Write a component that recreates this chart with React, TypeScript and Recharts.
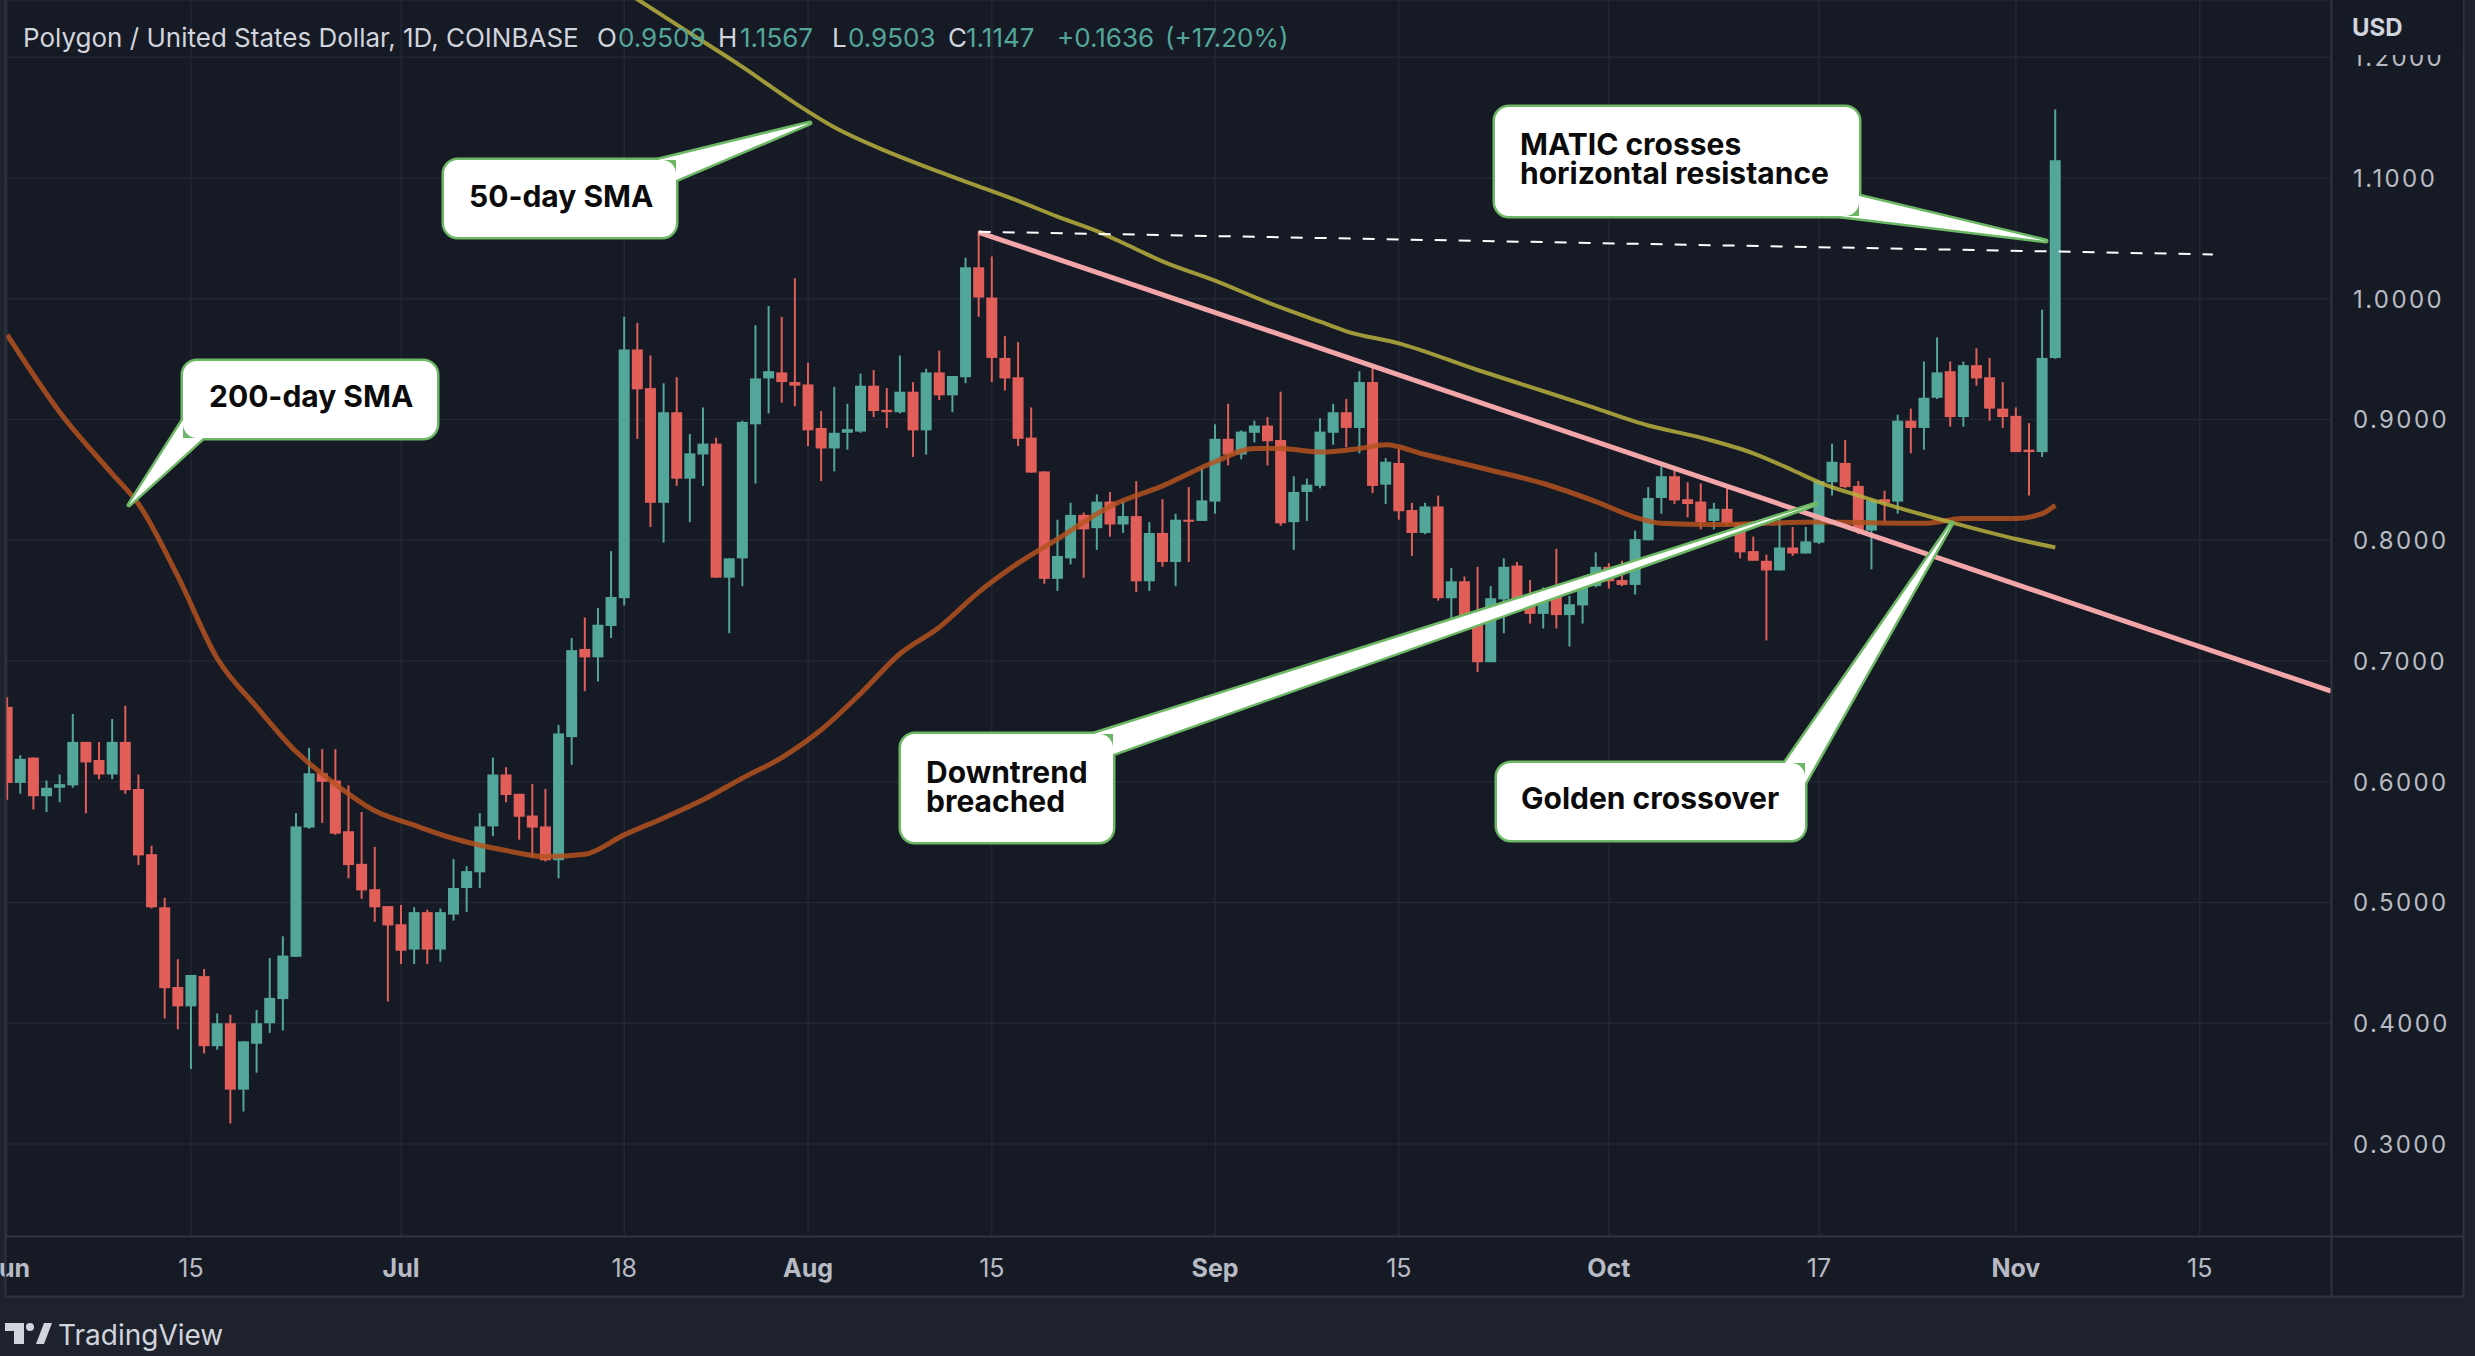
import React from 'react';
import { ComposedChart, Bar, Line, XAxis, YAxis, CartesianGrid } from 'recharts';

const PANEL_W = 2464;
const PANEL_H = 1297;

const UP = '#53a69a';
const DOWN = '#e15e59';
const BG = '#161a25';
const OUTER = '#1e222d';
const GRID = '#232734';
const BORDER = '#2f3341';
const TEXT = '#d1d4dc';
const AXIS_TEXT = '#b8bbc3';
const FONT = "Inter, 'Liberation Sans', sans-serif";

// daily candles from 1 Jun 2022 (index = days since 1 Jun) to 4 Nov 2022
const opens = [
  0.662, 0.599, 0.62, 0.588, 0.595, 0.597, 0.633, 0.618, 0.606, 0.633,
  0.594, 0.54, 0.496, 0.43, 0.414, 0.439, 0.381, 0.4, 0.345, 0.383,
  0.4, 0.42, 0.455, 0.562, 0.607, 0.601, 0.559, 0.532, 0.511, 0.497,
  0.482, 0.461, 0.492, 0.461, 0.49, 0.512, 0.525, 0.563, 0.606, 0.59,
  0.572, 0.563, 0.535, 0.637, 0.71, 0.703, 0.729, 0.752, 0.958, 0.926,
  0.831, 0.906, 0.851, 0.871, 0.88, 0.769, 0.785, 0.896, 0.934, 0.939,
  0.931, 0.929, 0.893, 0.876, 0.889, 0.89, 0.928, 0.908, 0.906, 0.923,
  0.891, 0.939, 0.92, 0.935, 1.026, 1.001, 0.951, 0.935, 0.885, 0.857,
  0.768, 0.785, 0.821, 0.81, 0.832, 0.813, 0.82, 0.766, 0.806, 0.782,
  0.817, 0.816, 0.832, 0.884, 0.871, 0.889, 0.895, 0.883, 0.815, 0.84,
  0.845, 0.889, 0.906, 0.893, 0.931, 0.846, 0.864, 0.825, 0.806, 0.828,
  0.752, 0.766, 0.734, 0.699, 0.751, 0.779, 0.753, 0.739, 0.756, 0.738,
  0.746, 0.762, 0.778, 0.767, 0.763, 0.8, 0.835, 0.853, 0.834, 0.832,
  0.816, 0.826, 0.814, 0.791, 0.783, 0.775, 0.794, 0.789, 0.798, 0.848,
  0.864, 0.845, 0.808, 0.834, 0.832, 0.899, 0.893, 0.918, 0.94, 0.902,
  0.945, 0.935, 0.909, 0.903, 0.875, 0.873, 0.9509,
];
const highs = [
  0.67, 0.622, 0.62, 0.601, 0.606, 0.656, 0.633, 0.633, 0.652, 0.663,
  0.606, 0.547, 0.504, 0.453, 0.44, 0.445, 0.408, 0.407, 0.385, 0.411,
  0.454, 0.472, 0.574, 0.628, 0.627, 0.627, 0.597, 0.575, 0.546, 0.497,
  0.498, 0.496, 0.494, 0.495, 0.536, 0.53, 0.574, 0.62, 0.612, 0.59,
  0.598, 0.594, 0.647, 0.719, 0.736, 0.744, 0.791, 0.985, 0.98, 0.953,
  0.93, 0.935, 0.888, 0.91, 0.885, 0.785, 0.899, 0.978, 0.994, 0.985,
  1.017, 0.947, 0.907, 0.927, 0.913, 0.938, 0.941, 0.926, 0.953, 0.931,
  0.942, 0.957, 0.936, 1.034, 1.056, 1.035, 0.969, 0.964, 0.91, 0.857,
  0.817, 0.831, 0.823, 0.838, 0.84, 0.832, 0.849, 0.815, 0.834, 0.822,
  0.844, 0.86, 0.896, 0.913, 0.891, 0.899, 0.902, 0.923, 0.853, 0.851,
  0.901, 0.913, 0.917, 0.94, 0.944, 0.868, 0.876, 0.831, 0.831, 0.837,
  0.777, 0.77, 0.778, 0.762, 0.785, 0.782, 0.767, 0.761, 0.793, 0.754,
  0.764, 0.79, 0.781, 0.783, 0.808, 0.844, 0.861, 0.861, 0.848, 0.847,
  0.831, 0.843, 0.814, 0.803, 0.788, 0.821, 0.811, 0.811, 0.85, 0.88,
  0.883, 0.849, 0.834, 0.841, 0.904, 0.909, 0.948, 0.968, 0.948, 0.948,
  0.959, 0.951, 0.931, 0.91, 0.897, 0.991, 1.1567,
];
const lows = [
  0.585, 0.59, 0.577, 0.575, 0.583, 0.595, 0.574, 0.602, 0.602, 0.59,
  0.531, 0.495, 0.404, 0.395, 0.362, 0.375, 0.378, 0.317, 0.327, 0.359,
  0.392, 0.394, 0.455, 0.561, 0.566, 0.556, 0.52, 0.503, 0.484, 0.418,
  0.449, 0.449, 0.449, 0.451, 0.485, 0.492, 0.512, 0.555, 0.583, 0.552,
  0.537, 0.534, 0.52, 0.614, 0.675, 0.683, 0.719, 0.746, 0.884, 0.811,
  0.798, 0.845, 0.815, 0.845, 0.769, 0.723, 0.762, 0.847, 0.905, 0.914,
  0.911, 0.878, 0.849, 0.857, 0.875, 0.889, 0.902, 0.893, 0.905, 0.869,
  0.871, 0.916, 0.906, 0.93, 0.985, 0.931, 0.924, 0.878, 0.856, 0.764,
  0.758, 0.78, 0.769, 0.792, 0.803, 0.806, 0.757, 0.758, 0.778, 0.762,
  0.782, 0.816, 0.822, 0.862, 0.867, 0.881, 0.862, 0.812, 0.792, 0.816,
  0.843, 0.879, 0.877, 0.872, 0.839, 0.83, 0.817, 0.787, 0.805, 0.75,
  0.725, 0.73, 0.691, 0.699, 0.723, 0.751, 0.731, 0.727, 0.727, 0.712,
  0.731, 0.761, 0.76, 0.762, 0.755, 0.8, 0.822, 0.83, 0.819, 0.809,
  0.809, 0.812, 0.785, 0.783, 0.717, 0.775, 0.787, 0.789, 0.797, 0.837,
  0.843, 0.805, 0.776, 0.815, 0.822, 0.872, 0.875, 0.917, 0.894, 0.894,
  0.928, 0.899, 0.893, 0.873, 0.837, 0.869, 0.9503,
];
const closes = [
  0.599, 0.619, 0.588, 0.595, 0.598, 0.633, 0.616, 0.606, 0.633, 0.593,
  0.539, 0.496, 0.429, 0.414, 0.44, 0.381, 0.4, 0.345, 0.385, 0.4,
  0.421, 0.456, 0.563, 0.607, 0.6, 0.557, 0.531, 0.51, 0.496, 0.481,
  0.46, 0.492, 0.461, 0.492, 0.512, 0.526, 0.563, 0.606, 0.589, 0.571,
  0.562, 0.535, 0.64, 0.709, 0.703, 0.73, 0.753, 0.958, 0.925, 0.831,
  0.906, 0.851, 0.872, 0.88, 0.769, 0.785, 0.898, 0.934, 0.94, 0.931,
  0.928, 0.891, 0.876, 0.889, 0.892, 0.928, 0.907, 0.906, 0.923, 0.891,
  0.939, 0.92, 0.936, 1.026, 1.001, 0.951, 0.934, 0.884, 0.856, 0.768,
  0.787, 0.821, 0.809, 0.832, 0.813, 0.82, 0.766, 0.806, 0.782, 0.817,
  0.816, 0.833, 0.884, 0.871, 0.89, 0.895, 0.882, 0.814, 0.84, 0.846,
  0.89, 0.906, 0.893, 0.931, 0.845, 0.865, 0.824, 0.806, 0.828, 0.752,
  0.766, 0.732, 0.699, 0.752, 0.778, 0.751, 0.739, 0.756, 0.738, 0.747,
  0.763, 0.778, 0.766, 0.763, 0.801, 0.835, 0.853, 0.833, 0.83, 0.815,
  0.826, 0.814, 0.79, 0.783, 0.775, 0.794, 0.789, 0.799, 0.849, 0.865,
  0.844, 0.808, 0.833, 0.831, 0.899, 0.893, 0.918, 0.939, 0.902, 0.945,
  0.934, 0.909, 0.902, 0.873, 0.873, 0.951, 1.1147,
];

// time axis
const tickDays = [0, 14, 30, 47, 61, 75, 92, 106, 122, 138, 153, 167];
const tickLabels = ['Jun', '15', 'Jul', '18', 'Aug', '15', 'Sep', '15', 'Oct', '17', 'Nov', '15'];
const monthLabels = ['Jun', 'Jul', 'Aug', 'Sep', 'Oct', 'Nov'];

// price axis
const priceTicks = [0.3, 0.4, 0.5, 0.6, 0.7, 0.8, 0.9, 1.0, 1.1, 1.2];

// moving averages
const sma50Days = [46, 48, 52, 56, 60, 63, 67, 71, 74, 77, 80, 83, 86, 88, 92, 96, 100, 102, 106, 112, 116, 120, 125, 129, 133, 136, 138, 141, 144, 148, 153, 156];
const sma50Values = [1.262, 1.248, 1.22, 1.192, 1.162, 1.142, 1.122, 1.105, 1.093, 1.081, 1.068, 1.056, 1.041, 1.031, 1.015, 0.997, 0.981, 0.973, 0.963, 0.941, 0.927, 0.913, 0.895, 0.885, 0.872, 0.858, 0.848, 0.837, 0.827, 0.815, 0.801, 0.794];
const sma200Days = [0, 4, 8, 10, 13, 16, 19, 22, 25, 28, 31, 34, 38, 41, 44, 47, 50, 53, 56, 59, 62, 65, 68, 71, 74, 77, 80, 84, 88, 92, 95, 97, 100, 103, 105, 108, 113, 117, 121, 124, 126, 130, 138, 146, 149, 153, 155, 156];
const sma200Values = [0.97, 0.906, 0.855, 0.83, 0.77, 0.702, 0.662, 0.625, 0.598, 0.576, 0.564, 0.553, 0.543, 0.538, 0.54, 0.556, 0.57, 0.585, 0.603, 0.62, 0.643, 0.673, 0.706, 0.728, 0.757, 0.781, 0.801, 0.828, 0.845, 0.865, 0.876, 0.876, 0.873, 0.876, 0.879, 0.871, 0.858, 0.847, 0.832, 0.819, 0.814, 0.813, 0.815, 0.814, 0.818, 0.818, 0.822, 0.829];

// drawn trend lines
const downtrendDays = [74, 177];
const downtrendValues = [1.055, 0.675];
const resistanceDays = [74, 168];
const resistanceValues = [1.0555, 1.0367];

const candles = opens.map((o, i) => ({
  day: i,
  open: o,
  high: highs[i],
  low: lows[i],
  close: closes[i],
  range: [lows[i], highs[i]],
}));

const toPoints = (days: number[], values: number[]) =>
  days.map((d, i) => ({ day: d, value: values[i] }));

const sma50 = toPoints(sma50Days, sma50Values);
const sma200 = toPoints(sma200Days, sma200Values);
const downtrend = toPoints(downtrendDays, downtrendValues);
const resistance = toPoints(resistanceDays, resistanceValues);

function Candle(props: any) {
  const { x, y, width, height, payload } = props;
  if (!payload || height == null || isNaN(y)) return null;
  const { open, close, high, low } = payload;
  const cx = x + width / 2;
  const k = height / (high - low);
  const yAt = (v: number) => y + (high - v) * k;
  const color = close >= open ? UP : DOWN;
  const top = yAt(Math.max(open, close));
  const bottom = yAt(Math.min(open, close));
  return (
    <g>
      <line x1={cx} x2={cx} y1={y} y2={y + height} stroke={color} strokeWidth={2} />
      <rect x={cx - 5.5} y={top} width={11} height={Math.max(bottom - top, 2)} fill={color} />
    </g>
  );
}

function TimeTick(props: any) {
  const { x, payload } = props;
  const label = tickLabels[tickDays.indexOf(payload.value)];
  const bold = monthLabels.includes(label);
  return (
    <text
      x={x}
      y={1277}
      textAnchor="middle"
      fill={AXIS_TEXT}
      fontFamily={FONT}
      fontSize={25}
      fontWeight={bold ? 700 : 400}
    >
      {label}
    </text>
  );
}

function PriceTick(props: any) {
  const { y, payload } = props;
  return (
    <text
      x={2353}
      y={y + 9}
      fill={AXIS_TEXT}
      fontFamily={FONT}
      fontSize={24}
      letterSpacing={2.4}
    >
      {Number(payload.value).toFixed(4)}
    </text>
  );
}

interface CalloutSpec {
  box: [number, number, number, number];
  wedge: [number, number][];
  lines: string[];
  textX: number;
  baselines: number[];
}

const callouts: CalloutSpec[] = [
  {
    box: [444, 160, 232, 77],
    wedge: [[658, 160], [810, 123], [676, 180], [676, 160]],
    lines: ['50-day SMA'],
    textX: 469,
    baselines: [207],
  },
  {
    box: [183, 361, 254, 77],
    wedge: [[183, 420], [129, 505], [203, 438], [183, 438]],
    lines: ['200-day SMA'],
    textX: 209,
    baselines: [407],
  },
  {
    box: [901, 734, 212, 108],
    wedge: [[1094, 734], [1816, 504], [1113, 754], [1113, 734]],
    lines: ['Downtrend', 'breached'],
    textX: 926,
    baselines: [783, 812],
  },
  {
    box: [1497, 763, 308, 77],
    wedge: [[1785, 763], [1952, 523], [1805, 783], [1805, 763]],
    lines: ['Golden crossover'],
    textX: 1521,
    baselines: [809],
  },
  {
    box: [1495, 107, 364, 109],
    wedge: [[1859, 196], [2046, 241], [1840, 216], [1859, 216]],
    lines: ['MATIC crosses', 'horizontal resistance'],
    textX: 1520,
    baselines: [155, 184],
  },
];

function Callout({ c }: { c: CalloutSpec }) {
  const [bx, by, bw, bh] = c.box;
  const pts = c.wedge.map((p) => p.join(',')).join(' ');
  return (
    <g>
      <rect x={bx} y={by} width={bw} height={bh} rx={14} fill="#6cb865" stroke="#6cb865" strokeWidth={5} />
      <polygon points={pts} fill="#6cb865" stroke="#6cb865" strokeWidth={5} strokeLinejoin="round" />
      <rect x={bx} y={by} width={bw} height={bh} rx={14} fill="#ffffff" />
      <polygon points={pts} fill="#ffffff" />
      {c.lines.map((t, i) => (
        <text
          key={t}
          x={c.textX}
          y={c.baselines[i]}
          fill="#0b0b0b"
          fontFamily={FONT}
          fontSize={30}
          fontWeight={700}
        >
          {t}
        </text>
      ))}
    </g>
  );
}

const VALUE = '#53a69a';

function Header() {
  const seg = (x: number, t: string, fill: string) => (
    <text x={x} y={47} fill={fill} fontFamily={FONT} fontSize={26}>
      {t}
    </text>
  );
  return (
    <g>
      {seg(23, 'Polygon / United States Dollar, 1D, COINBASE', TEXT)}
      {seg(597, 'O', TEXT)}
      {seg(618, '0.9509', VALUE)}
      {seg(718, 'H', TEXT)}
      {seg(740, '1.1567', VALUE)}
      {seg(832, 'L', TEXT)}
      {seg(848, '0.9503', VALUE)}
      {seg(948, 'C', TEXT)}
      {seg(966, '1.1147', VALUE)}
      {seg(1057, '+0.1636', VALUE)}
      {seg(1165, '(+17.20%)', VALUE)}
    </g>
  );
}

export default function App() {
  return (
    <div style={{ position: 'absolute', left: 0, top: 0, width: 2475, height: 1356, background: OUTER, overflow: 'hidden' }}>
      <div style={{ position: 'absolute', left: 5, top: 0, width: PANEL_W - 5, height: PANEL_H, background: BG }} />
      <div style={{ position: 'absolute', left: 0, top: 0 }}>
        <ComposedChart
          width={PANEL_W}
          height={PANEL_H}
          data={candles}
          margin={{ top: 0, right: 0, bottom: 0, left: 5.5 }}
        >
          <CartesianGrid stroke={GRID} strokeWidth={1.5} />
          <XAxis
            dataKey="day"
            type="number"
            domain={[-0.13, 177]}
            allowDataOverflow
            ticks={tickDays}
            interval={0}
            height={61}
            axisLine={false}
            tickLine={false}
            tick={<TimeTick />}
          />
          <YAxis
            orientation="right"
            type="number"
            domain={[0.2238, 1.2474]}
            allowDataOverflow
            ticks={priceTicks}
            interval={0}
            width={133}
            axisLine={false}
            tickLine={false}
            tick={<PriceTick />}
          />
          <Bar
            dataKey="range"
            barSize={11}
            shape={(p: any) => <Candle {...p} />}
            isAnimationActive={false}
          />
          <Line
            data={sma200}
            dataKey="value"
            type="monotone"
            stroke="#b4521f"
            strokeOpacity={0.85}
            strokeWidth={5}
            dot={false}
            activeDot={false}
            isAnimationActive={false}
          />
          <Line
            data={sma50}
            dataKey="value"
            type="monotone"
            stroke="#b8b03e"
            strokeOpacity={0.85}
            strokeWidth={4}
            dot={false}
            activeDot={false}
            isAnimationActive={false}
          />
          <Line
            data={downtrend}
            dataKey="value"
            type="linear"
            stroke="#f3a6a9"
            strokeWidth={5}
            dot={false}
            activeDot={false}
            isAnimationActive={false}
          />
          <Line
            data={resistance}
            dataKey="value"
            type="linear"
            stroke="#ffffff"
            strokeWidth={2}
            strokeDasharray="12 12"
            dot={false}
            activeDot={false}
            isAnimationActive={false}
          />
        </ComposedChart>
      </div>
      <svg width={2475} height={1356} style={{ position: 'absolute', left: 0, top: 0, pointerEvents: 'none' }}>
        <line x1={2331.5} y1={0} x2={2331.5} y2={PANEL_H} stroke={BORDER} strokeWidth={2} />
        <line x1={5} y1={1236.5} x2={PANEL_W} y2={1236.5} stroke={BORDER} strokeWidth={2} />
        <rect x={5.5} y={-2} width={PANEL_W - 6} height={PANEL_H + 1.5} fill="none" stroke={BORDER} strokeWidth={2} />
        <rect x={2333} y={0} width={130} height={55} fill={BG} />
        <text x={2352} y={36} fill={TEXT} fontFamily={FONT} fontSize={24} fontWeight={700}>
          USD
        </text>
        <Header />
        {callouts.map((c, i) => (
          <Callout key={i} c={c} />
        ))}
        <g fill={TEXT}>
          <path d="M5,1323 H24 V1344 H14 V1331 H5 Z" />
          <circle cx={30} cy={1327} r={4} />
          <path d="M36,1344 L44,1323 H52 L44,1344 Z" />
          <text x={58} y={1345} fontFamily={FONT} fontSize={28}>
            TradingView
          </text>
        </g>
      </svg>
    </div>
  );
}
